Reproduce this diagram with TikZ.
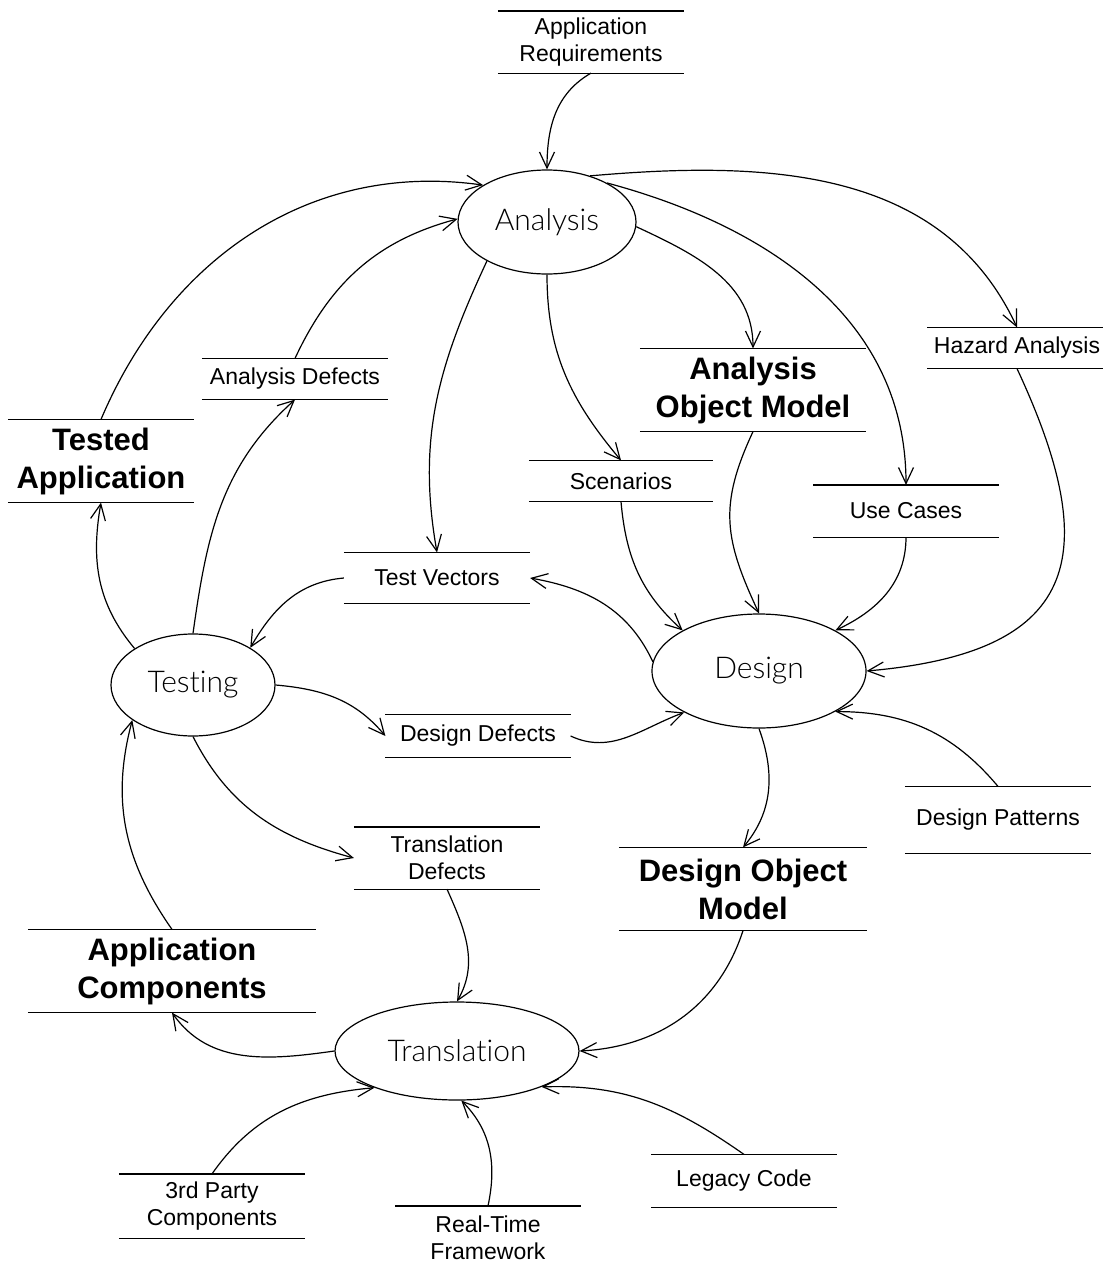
\documentclass[tikz,border=0pt]{standalone}
\usepackage{fontspec}
\setmainfont{Liberation Sans}
\newfontfamily\ellfont[Ligatures=NoCommon]{Lato Light}
\usetikzlibrary{shapes.geometric,arrows.meta}
\begin{document}
\begin{tikzpicture}[x=1pt,y=1pt,line width=1.2pt,>={Straight Barb[length=16pt,width=15pt]},
      proc/.style={ellipse,draw,inner sep=0pt,font=\ellfont\fontsize{30}{35}\selectfont},
      store/.style={inner sep=0pt,align=center,font=\fontsize{23}{27}\selectfont},
      bstore/.style={store,font=\fontsize{31}{38}\selectfont\bfseries}]
      \useasboundingbox(0,0)rectangle(1103,-1264);
      \node[proc,minimum width=178,minimum height=104](ana)at(547,-222){Analysis};
      \node[proc,minimum width=164,minimum height=102](test)at(193,-685){Testing};
      \node[proc,minimum width=214,minimum height=114](des)at(759,-671){Design};
      \node[proc,minimum width=244,minimum height=98](trans)at(457,-1051){Translation};
      \node[store,minimum width=185,minimum height=61](areq)at(591,-42){Application\\Requirements};
      \node[store,minimum width=178,minimum height=40](haz)at(1017,-348){Hazard Analysis};
      \node[bstore,minimum width=225,minimum height=82](aom)at(753,-390){Analysis\\Object Model};
      \node[store,minimum width=185,minimum height=40](ad)at(295,-379){Analysis Defects};
      \node[bstore,minimum width=185,minimum height=82](ta)at(101,-461){Tested\\Application};
      \node[store,minimum width=183,minimum height=40](scen)at(621,-481){Scenarios};
      \node[store,minimum width=184,minimum height=51](uc)at(906,-511){Use Cases};
      \node[store,minimum width=185,minimum height=50](tv)at(437,-578){Test Vectors};
      \node[store,minimum width=184,minimum height=42](dd)at(478,-736){Design Defects};
      \node[store,minimum width=185,minimum height=66](dp)at(998,-820){Design Patterns};
      \node[store,minimum width=185,minimum height=61](td)at(447,-858){Translation\\Defects};
      \node[bstore,minimum width=247,minimum height=82](dom)at(743,-889){Design Object\\Model};
      \node[bstore,minimum width=287,minimum height=82](ac)at(172,-971){Application\\Components};
      \node[store,minimum width=185,minimum height=63](tp)at(212,-1206){3rd Party\\Components};
      \node[store,minimum width=184,minimum height=63](rt)at(488,-1238){Real-Time\\Framework};
      \node[store,minimum width=184,minimum height=52](lc)at(744,-1181){Legacy Code};
      \foreach \s in {areq,haz,aom,ad,ta,scen,uc,tv,dd,dp,td,dom,ac,tp,rt,lc}
        \draw(\s.north west)--(\s.north east)(\s.south west)--(\s.south east);
      \draw[->](areq.south)to[out=210,in=90](ana.north);
      \draw[->](ana.47)to[out=5,in=115](haz.north);
      \draw[->](ana.33)to[out=-15,in=90](uc.north);
      \draw[->](ana.-3)to[out=-25,in=90](aom.north);
      \draw[->](ana.south)to[out=-90,in=130](scen.north);
      \draw[->](ana.213)to[out=245,in=100](tv.north);
      \draw[->](ad.north)to[out=65,in=195](ana.178);
      \draw[->](ta.north)to[out=67,in=172](ana.150);
      \draw[->](test.148)to[out=130,in=260](ta.south);
      \draw[->](test.north)to[out=82,in=222](ad.south);
      \draw[->](tv.west)to[out=185,in=60](test.33);
      \draw[->](des.175)to[out=115,in=-10](tv.east);
      \draw[->](scen.south)to[out=-85,in=138](des.152);
      \draw[->](aom.south)to[out=245,in=115,looseness=1.15](des.north);
      \draw[->](uc.south)to[out=-90,in=25](des.28);
      \draw[->](haz.south)to[out=-65,in=5,looseness=1.6](des.east);
      \draw[->](dp.north)to[out=130,in=0](des.-28);
      \draw[->](test.east)to[out=-5,in=130](dd.west);
      \draw[->](dd.east)to[out=-25,in=200](des.209);
      \draw[->](test.south)to[out=-63,in=165](td.west);
      \draw[->](des.south)to[out=-70,in=50](dom.north);
      \draw[->](td.south)to[out=-66,in=60](trans.north);
      \draw[->](dom.south)to[out=252,in=3](trans.east);
      \draw[->](ac.north)to[out=125,in=255](test.210);
      \draw[->](trans.west)to[out=188,in=-55](ac.south);
      \draw[->](tp.north)to[out=55,in=185](trans.204);
      \draw[->](rt.north)to[out=78,in=-45](trans.-85);
      \draw[->](lc.north)to[out=145,in=2](trans.-23);
    \end{tikzpicture}
\end{document}
